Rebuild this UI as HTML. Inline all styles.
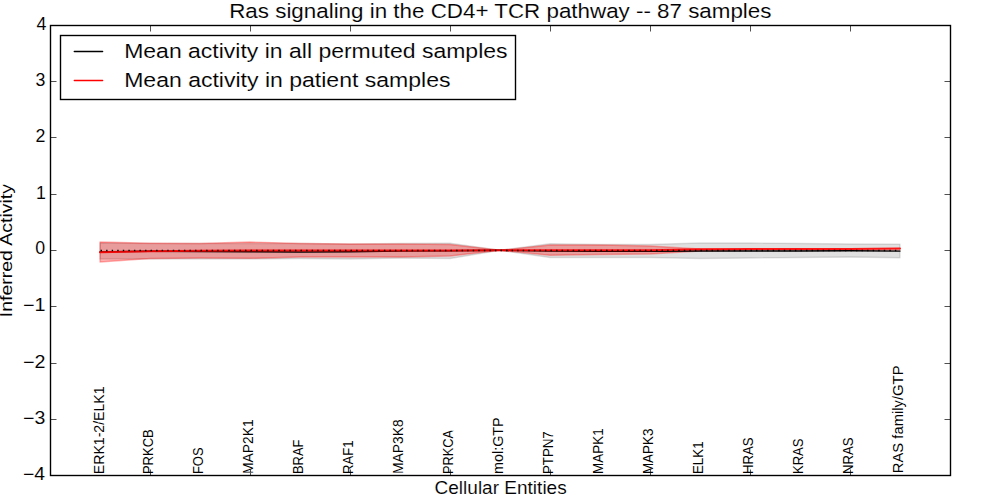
<!DOCTYPE html><html><head><meta charset="utf-8"><style>html,body{margin:0;padding:0;background:#fff;width:1000px;height:500px;overflow:hidden}svg{display:block}text{font-family:"Liberation Sans",sans-serif;fill:#000;stroke:#fff;stroke-width:0}.t1{stroke-width:0.11px}.t2{stroke-width:0.07px}.t3{stroke-width:0.03px}</style></head><body>
<svg width="1000" height="500" viewBox="0 0 1000 500">
<rect x="0" y="0" width="1000" height="500" fill="#fff"/>
<polygon points="100,243 150,243.5 200,243.5 250,243.5 300,243.5 350,244 400,243.5 450,243.3 500,250.3 550,243.8 600,244.5 650,244.5 700,243 750,243 800,243.5 850,244 900,244.1 900,257.7 850,257 800,257.5 750,258 700,258.5 650,257.5 600,257.5 550,257.5 500,250.3 450,258.5 400,258 350,259 300,258.5 250,259 200,259 150,259 100,259" fill="#000" fill-opacity="0.12" stroke="#000" stroke-opacity="0.12" stroke-width="1.39" stroke-linejoin="round"/>
<polygon points="100,242 150,243.2 200,243.5 250,242 300,243.5 350,244 400,244 450,244.5 500,250.3 550,245 600,245 650,246 700,249 750,250 800,250 850,250 900,250 900,250 850,250 800,250 750,250 700,251 650,254 600,254.5 550,255.3 500,250.3 450,256 400,257 350,257 300,257 250,258.3 200,258 150,258.5 100,262" fill="#f00" fill-opacity="0.3" stroke="#f00" stroke-opacity="0.3" stroke-width="1.39" stroke-linejoin="round"/>
<polyline points="100,251.9 150,251.3 200,251.5 250,251.7 300,252 350,251.7 400,251 450,250.7 500,250.3 550,251 600,251.3 650,251.3 700,251 750,251 800,251 850,250.8 900,251.1" fill="none" stroke="#000" stroke-width="1.39" stroke-linecap="round"/>
<polyline points="100,252.2 150,251.3 200,250.7 250,250.5 300,250.4 350,250.4 400,250.4 450,250.4 500,250.3 550,250.3 600,250.3 650,250.3 700,249.2 750,249 800,249 850,249 900,248.6" fill="none" stroke="#f00" stroke-opacity="0.9" stroke-width="2" stroke-linecap="round"/>
<line x1="100" y1="250.5" x2="900" y2="250.5" stroke="#000" stroke-width="1.39" stroke-dasharray="1.39 4.1646" stroke-dashoffset="-0.6"/>
<path d="M50.5,81.5H56.5M950.5,81.5H944.5M50.5,137.5H56.5M950.5,137.5H944.5M50.5,194.5H56.5M950.5,194.5H944.5M50.5,250.5H56.5M950.5,250.5H944.5M50.5,306.5H56.5M950.5,306.5H944.5M50.5,363.5H56.5M950.5,363.5H944.5M50.5,419.5H56.5M950.5,419.5H944.5M150.5,25.5V31.5M150.5,475.5V469.5M250.5,25.5V31.5M250.5,475.5V469.5M350.5,25.5V31.5M350.5,475.5V469.5M450.5,25.5V31.5M450.5,475.5V469.5M550.5,25.5V31.5M550.5,475.5V469.5M650.5,25.5V31.5M650.5,475.5V469.5M750.5,25.5V31.5M750.5,475.5V469.5M850.5,25.5V31.5M850.5,475.5V469.5" stroke="#000" stroke-width="0.69" fill="none"/>
<rect x="50.5" y="25.5" width="900" height="450" fill="none" stroke="#000" stroke-width="1.39"/>
<rect x="60.5" y="35.5" width="455" height="64" fill="#fff" stroke="#000" stroke-width="1.39"/>
<line x1="74.3" y1="51.5" x2="102.6" y2="51.5" stroke="#000" stroke-width="1.39" stroke-linecap="round"/>
<line x1="74.3" y1="80.5" x2="102.6" y2="80.5" stroke="#f00" stroke-width="1.39" stroke-linecap="round"/>
<text class="t1" transform="translate(229.21,17.76) scale(1.1072,1)" font-size="20.21">Ras signaling in the CD4+ TCR pathway -- 87 samples</text>
<text class="t1" transform="translate(124.16,57.76) scale(1.1383,1)" font-size="20.21">Mean activity in all permuted samples</text>
<text class="t1" transform="translate(124.16,86.76) scale(1.1401,1)" font-size="20.21">Mean activity in patient samples</text>
<text class="t1" transform="translate(434.55,494.32) scale(1.0665,1)" font-size="17.84">Cellular Entities</text>
<text class="t2" transform="translate(36.57,29.73) scale(1.0000,1)" font-size="17.80">4</text>
<text class="t2" transform="translate(35.42,85.89) scale(1.0000,1)" font-size="17.80">3</text>
<text class="t2" transform="translate(35.42,142.23) scale(1.0000,1)" font-size="17.80">2</text>
<text class="t2" transform="translate(35.92,198.89) scale(1.0000,1)" font-size="17.80">1</text>
<text class="t2" transform="translate(35.24,254.39) scale(1.0000,1)" font-size="17.80">0</text>
<text class="t2" transform="translate(23.01,310.89) scale(1.1074,1)" font-size="17.80">−1</text>
<text class="t2" transform="translate(23.01,367.98) scale(1.1074,1)" font-size="17.80">−2</text>
<text class="t2" transform="translate(23.02,423.89) scale(1.0968,1)" font-size="17.80">−3</text>
<text class="t2" transform="translate(23.03,479.98) scale(1.0865,1)" font-size="17.80">−4</text>
<text class="t3" transform="translate(11.54,317.26) rotate(-90) scale(1.1832,1)" font-size="16.49">Inferred Activity</text>
<text class="t3" transform="translate(104.25,474.13) rotate(-90) scale(0.9859,1)" font-size="14.30">ERK1-2/ELK1</text>
<text class="t3" transform="translate(153.11,474.04) rotate(-90) scale(0.9085,1)" font-size="14.30">PRKCB</text>
<text class="t3" transform="translate(203.11,474.04) rotate(-90) scale(0.9058,1)" font-size="14.30">FOS</text>
<text class="t3" transform="translate(253.25,474.11) rotate(-90) scale(0.9702,1)" font-size="14.30">MAP2K1</text>
<text class="t3" transform="translate(303.25,474.04) rotate(-90) scale(0.9050,1)" font-size="14.30">BRAF</text>
<text class="t3" transform="translate(353.25,474.05) rotate(-90) scale(0.9209,1)" font-size="14.30">RAF1</text>
<text class="t3" transform="translate(403.11,474.11) rotate(-90) scale(0.9702,1)" font-size="14.30">MAP3K8</text>
<text class="t3" transform="translate(453.11,474.02) rotate(-90) scale(0.8949,1)" font-size="14.30">PRKCA</text>
<text class="t3" transform="translate(503.10,474.01) rotate(-90) scale(1.0068,1)" font-size="14.30">mol:GTP</text>
<text class="t3" transform="translate(553.25,474.06) rotate(-90) scale(0.9279,1)" font-size="14.30">PTPN7</text>
<text class="t3" transform="translate(603.25,474.08) rotate(-90) scale(0.9438,1)" font-size="14.30">MAPK1</text>
<text class="t3" transform="translate(653.11,474.08) rotate(-90) scale(0.9410,1)" font-size="14.30">MAPK3</text>
<text class="t3" transform="translate(703.25,474.07) rotate(-90) scale(0.9344,1)" font-size="14.30">ELK1</text>
<text class="t3" transform="translate(753.11,474.06) rotate(-90) scale(0.9236,1)" font-size="14.30">HRAS</text>
<text class="t3" transform="translate(803.11,474.05) rotate(-90) scale(0.9145,1)" font-size="14.30">KRAS</text>
<text class="t3" transform="translate(853.11,474.06) rotate(-90) scale(0.9236,1)" font-size="14.30">NRAS</text>
<text class="t3" transform="translate(903.22,473.18) rotate(-90) scale(1.0348,1)" font-size="14.30">RAS family/GTP</text>
</svg></body></html>
